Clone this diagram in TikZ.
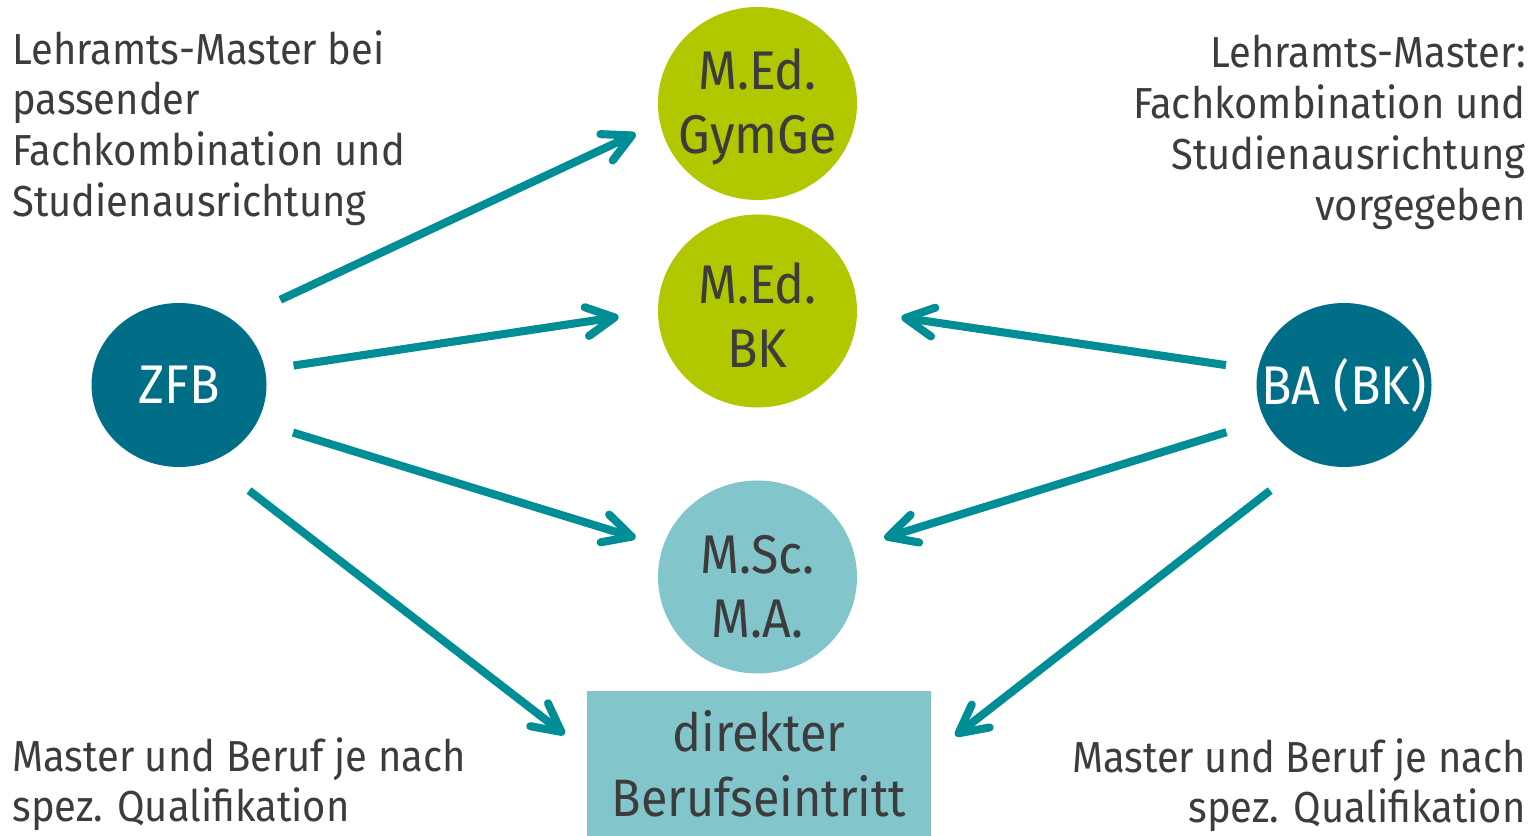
\documentclass[tikz,border=0pt]{standalone}
\usepackage{fontspec}
\setmainfont{Fira Sans}[FakeStretch=0.92]
\usepackage{xcolor}
\usepackage{tikz}
\usetikzlibrary{positioning,arrows.meta,shapes.geometric}
\definecolor{zfbteal}{HTML}{006E87}
\definecolor{medlime}{HTML}{B1C800}
\definecolor{msclight}{HTML}{82C6CB}
\definecolor{arrowteal}{HTML}{008E96}
\definecolor{textgray}{HTML}{3C3C3C}

\begin{document}
\begin{tikzpicture}[
    start/.style={ellipse, fill=zfbteal, text=white, inner ysep=0pt, inner xsep=-0.6cm,
                  minimum width=3.5cm, minimum height=3.28cm,
                  font=\fontsize{31pt}{35pt}\selectfont},
    master/.style={ellipse, inner ysep=0pt, inner xsep=-0.6cm, text=textgray, align=center,
                   minimum width=3.98cm, minimum height=3.86cm,
                   font=\fontsize{31pt}{36.5pt}\selectfont},
    sidetext/.style={inner sep=0pt, text=textgray,
                     font=\fontsize{24.7pt}{28.9pt}\selectfont},
    arr/.style={draw=arrowteal, line width=4.6pt,
                -{Straight Barb[length=0.56cm, width=0.58cm, line cap=round, line join=round]}},
]
\useasboundingbox (0,0) rectangle (30.68,16.72);

\node[start] (zfb) at (3.58,9.02) {ZFB};
\node[start] (ba) at (26.88,9.02) {BA (BK)};
\node[master, fill=medlime, text depth=0.1cm] (gym) at (15.15,14.65) {M.Ed.\\GymGe};
\node[master, fill=medlime] (bk) at (15.15,10.50) {\rule{0pt}{27.5pt}M.Ed.\\BK};
\node[master, fill=msclight] (msc) at (15.15,5.18) {\rule{0pt}{33pt}M.Sc.\\M.A.};
\node[fill=msclight, text=textgray, align=center, inner sep=0pt,
      minimum width=6.88cm, minimum height=2.9cm,
      font=\fontsize{30pt}{36.8pt}\selectfont] (beruf) at (15.18,1.45)
    {direkter\\Berufseintritt};

\node[sidetext, anchor=north west, align=left] (lehrl) at (0.24,16.12)
    {Lehramts-Master bei\\passender\\Fachkombination und\\Studienausrichtung};
\node[sidetext, anchor=north east, align=right] (lehrr) at (30.52,16.02)
    {Lehramts-Master:\\Fachkombination und\\Studienausrichtung\\vorgegeben};
\node[sidetext, anchor=north west, align=left] (berl) at (0.24,1.98)
    {Master und Beruf je nach\\spez. Qualifikation};
\node[sidetext, anchor=north east, align=right] (berr) at (30.52,1.96)
    {Master und Beruf je nach\\spez. Qualifikation};

\draw[arr, shorten <=1.01cm, shorten >=0.53cm] (zfb.49) -- (gym.191);
\draw[arr, shorten <=0.57cm, shorten >=0.79cm] (zfb.10) -- (bk.180);
\draw[arr, shorten <=0.74cm, shorten >=0.57cm] (zfb.-25) -- (msc.162);
\draw[arr, shorten <=0.95cm, shorten >=0.56cm] (zfb.-67) -- (beruf.176);
\draw[arr, shorten <=0.64cm, shorten >=0.89cm] (ba.170) -- (bk.0);
\draw[arr, shorten <=0.80cm, shorten >=0.66cm] (ba.-156) -- (msc.17);
\draw[arr, shorten <=0.98cm, shorten >=0.61cm] (ba.-115) -- (beruf.3);
\end{tikzpicture}
\end{document}
